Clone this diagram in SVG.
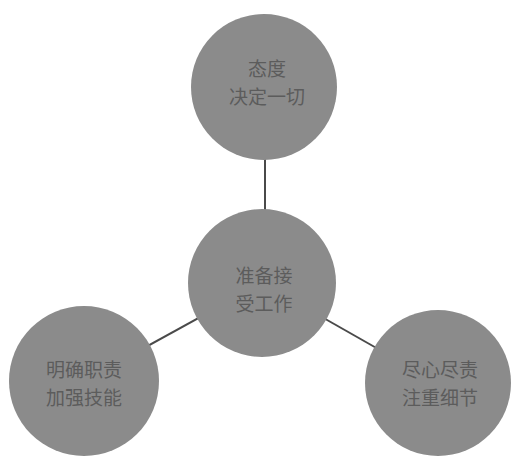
<svg xmlns="http://www.w3.org/2000/svg" width="512" height="457" viewBox="0 0 512 457">
<style>
.node circle{fill:#8b8b8b;}
.node text{font-family:"Noto Sans CJK SC","Noto Sans CJK TC",sans-serif;font-size:19px;fill:#5c5c5c;text-anchor:middle;}
.conn line{stroke:#4a4a4a;stroke-width:2;}
</style>
<rect width="512" height="457" fill="#ffffff"/>
<g id="connectors" class="conn">
<line x1="265" y1="150" x2="265" y2="215"/>
<line x1="262" y1="283" x2="84" y2="381"/>
<line x1="262" y1="283" x2="438" y2="383"/>
</g>
<g id="node-top" class="node">
<circle cx="264" cy="87" r="73"/>
<text x="267" y="76">态度</text>
<text x="267" y="104">决定一切</text>
</g>
<g id="node-center" class="node">
<circle cx="262" cy="283" r="74"/>
<text x="264" y="283">准备接</text>
<text x="264" y="311">受工作</text>
</g>
<g id="node-left" class="node">
<circle cx="84" cy="381" r="75"/>
<text x="84" y="377">明确职责</text>
<text x="84" y="405">加强技能</text>
</g>
<g id="node-right" class="node">
<circle cx="438" cy="383" r="73"/>
<text x="440" y="377">尽心尽责</text>
<text x="440" y="405">注重细节</text>
</g>
</svg>
